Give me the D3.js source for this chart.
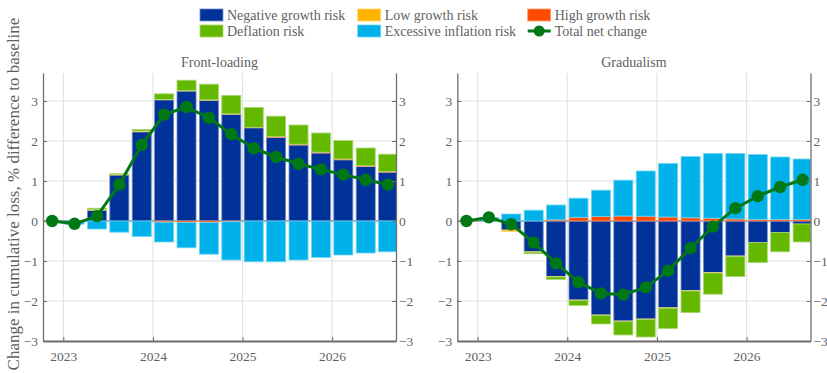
<!DOCTYPE html>
<html>
<head>
<meta charset="utf-8">
<script src="https://cdn.jsdelivr.net/npm/d3@7"></script>
<style>
  html, body { margin: 0; padding: 0; background: #fff; }
  svg { display: block; }
</style>
</head>
<body>
<svg id="chart" width="827" height="373"></svg>
<script>
// Quarterly observations, 2022Q4 to 2026Q3
const quarters = ["2022Q4","2023Q1","2023Q2","2023Q3","2023Q4","2024Q1","2024Q2","2024Q3",
                  "2024Q4","2025Q1","2025Q2","2025Q3","2025Q4","2026Q1","2026Q2","2026Q3"];
const yearTicks = [2023, 2024, 2025, 2026];
const valueTicks = [-3, -2, -1, 0, 1, 2, 3];

const seriesNames = ["Negative growth risk", "Low growth risk", "High growth risk",
                     "Deflation risk", "Excessive inflation risk"];
const lineName = "Total net change";

// Front-loading scenario
const frontNegGrowth  = [0, 0.01, 0.27, 1.15, 2.23, 3.03, 3.25, 3.02, 2.67, 2.33, 2.09, 1.90, 1.70, 1.53, 1.36, 1.22];
const frontLowGrowth  = [0, 0, 0.02, 0.02, 0.02, 0.01, 0.01, 0.01, 0.01, 0, 0, 0, 0, 0, 0, 0];
const frontHighGrowth = [0, 0, 0, 0, 0, -0.03, -0.04, -0.04, -0.02, 0.01, 0.02, 0.02, 0.02, 0.02, 0.02, 0.02];
const frontDeflation  = [0, 0, 0.03, 0.02, 0.04, 0.14, 0.26, 0.39, 0.46, 0.50, 0.51, 0.48, 0.48, 0.46, 0.445, 0.43];
const frontExcessInfl = [0, -0.08, -0.20, -0.28, -0.39, -0.495, -0.63, -0.79, -0.955, -1.02, -1.02, -0.975, -0.91, -0.85, -0.80, -0.77];
const frontTotal      = [0, -0.07, 0.12, 0.91, 1.90, 2.66, 2.85, 2.58, 2.17, 1.82, 1.60, 1.43, 1.29, 1.16, 1.03, 0.91];

// Gradualism scenario
const gradNegGrowth  = [0, 0, -0.225, -0.77, -1.39, -1.975, -2.35, -2.50, -2.45, -2.17, -1.74, -1.29, -0.875, -0.54, -0.29, -0.075];
const gradLowGrowth  = [0, 0, -0.04, -0.01, -0.01, -0.01, -0.01, -0.01, -0.01, -0.01, -0.01, -0.01, -0.01, 0, 0, 0];
const gradHighGrowth = [0, 0, 0, 0, 0.03, 0.09, 0.11, 0.125, 0.12, 0.10, 0.08, 0.07, 0.05, 0.04, 0.04, 0.04];
const gradDeflation  = [0, 0, 0, -0.04, -0.06, -0.125, -0.215, -0.34, -0.44, -0.51, -0.54, -0.53, -0.505, -0.50, -0.48, -0.45];
const gradExcessInfl = [0, 0.09, 0.175, 0.27, 0.37, 0.48, 0.66, 0.895, 1.13, 1.34, 1.53, 1.62, 1.64, 1.62, 1.56, 1.51];
const gradTotal      = [0, 0.09, -0.08, -0.54, -1.06, -1.53, -1.81, -1.84, -1.66, -1.24, -0.68, -0.14, 0.32, 0.62, 0.85, 1.03];

const colors = ["#003299", "#FFB400", "#FF4B00", "#65B800", "#00B1EA"];
const lineColor = "#007816";
const textColor = "#5f5f5f";
const axisColor = "#6e6e6e";
const gridColor = "#e3e3e3";
const fontFamily = "Liberation Serif";

// mid-quarter position in decimal years
const qTime = quarters.map(q => +q.slice(0, 4) + (+q.slice(5) - 1) * 0.25 + 0.125);

const panels = [
  { title: "Front-loading", left: 43, right: 396,
    series: [frontNegGrowth, frontLowGrowth, frontHighGrowth, frontDeflation, frontExcessInfl], total: frontTotal },
  { title: "Gradualism", left: 457.3, right: 810.5,
    series: [gradNegGrowth, gradLowGrowth, gradHighGrowth, gradDeflation, gradExcessInfl], total: gradTotal }
];

const svg = d3.select("#chart").attr("font-family", fontFamily);
const plotTop = 73, plotBottom = 341;
const y = d3.scaleLinear().domain([-3, 3.7]).range([plotBottom, plotTop]);

function lighten(c, k) {
  return d3.interpolateRgb(c, "#ffffff")(k);
}

panels.forEach((p, pi) => {
  const x = d3.scaleLinear().domain([2022.773, 2026.713]).range([p.left, p.right]);
  const bw = (x(2023.25) - x(2023)) * 0.85;
  const g = svg.append("g");

  const clipId = "clip" + pi;
  svg.append("clipPath").attr("id", clipId).append("rect")
    .attr("x", p.left).attr("y", plotTop - 10).attr("width", p.right - p.left).attr("height", plotBottom - plotTop + 10);

  // grid
  g.append("g").selectAll("line").data(valueTicks).join("line")
    .attr("x1", p.left).attr("x2", p.right).attr("y1", d => y(d)).attr("y2", d => y(d))
    .attr("stroke", gridColor).attr("stroke-width", 1.2);
  g.append("g").selectAll("line").data(yearTicks).join("line")
    .attr("x1", d => x(d)).attr("x2", d => x(d)).attr("y1", plotTop).attr("y2", plotBottom)
    .attr("stroke", gridColor).attr("stroke-width", 1.2);

  // zero baseline
  g.append("line").attr("x1", p.left).attr("x2", p.right).attr("y1", y(0)).attr("y2", y(0))
    .attr("stroke", axisColor).attr("stroke-width", 1);

  // stacked bars
  const rows = quarters.map((q, i) => {
    const r = { t: qTime[i] };
    p.series.forEach((s, k) => r["s" + k] = s[i]);
    return r;
  });
  const keys = p.series.map((s, k) => "s" + k);
  const stacked = d3.stack().keys(keys).offset(d3.stackOffsetDiverging)(rows);

  const barG = g.append("g").attr("clip-path", `url(#${clipId})`);
  stacked.forEach((layer, k) => {
    barG.append("g").selectAll("rect").data(layer.filter(d => Math.abs(d[1] - d[0]) > 1e-9)).join("rect")
      .attr("x", d => x(d.data.t) - bw / 2)
      .attr("width", bw)
      .attr("y", d => y(Math.max(d[0], d[1])))
      .attr("height", d => Math.abs(y(d[0]) - y(d[1])))
      .attr("fill", colors[k])
      .attr("stroke", lighten(colors[k], 0.45))
      .attr("stroke-width", 0.8);
  });

  // total net change
  const line = d3.line().x((d, i) => x(qTime[i])).y(d => y(d));
  g.append("path").datum(p.total).attr("d", line)
    .attr("fill", "none").attr("stroke", lineColor).attr("stroke-width", 3).attr("stroke-linejoin", "round");
  g.append("g").selectAll("circle").data(p.total).join("circle")
    .attr("cx", (d, i) => x(qTime[i])).attr("cy", d => y(d)).attr("r", 6.2)
    .attr("fill", lineColor);

  // axes
  const axL = d3.axisLeft(y).tickValues(valueTicks).tickSizeInner(-4).tickSizeOuter(0).tickPadding(5)
    .tickFormat(d3.format("d"));
  const axR = d3.axisRight(y).tickValues(valueTicks).tickSizeInner(-4).tickSizeOuter(0).tickPadding(3)
    .tickFormat(d3.format("d"));
  const axB = d3.axisBottom(x).tickValues(yearTicks).tickSizeInner(-4).tickSizeOuter(0).tickPadding(10)
    .tickFormat(d3.format("d"));

  const gl = g.append("g").attr("transform", `translate(${p.left},0)`).call(axL);
  const gr = g.append("g").attr("transform", `translate(${p.right},0)`).call(axR);
  const gb = g.append("g").attr("transform", `translate(0,${plotBottom})`).call(axB);
  [gl, gr, gb].forEach(a => {
    a.attr("font-family", fontFamily).attr("font-size", 13.5);
    a.selectAll("path.domain").attr("stroke", axisColor).attr("stroke-width", 1.3);
    a.selectAll(".tick line").attr("stroke", axisColor);
    a.selectAll("text").attr("fill", textColor);
  });
  gb.select("path.domain").attr("stroke-width", 2);

  // title
  g.append("text").attr("x", (p.left + p.right) / 2).attr("y", 67)
    .attr("text-anchor", "middle").attr("fill", textColor).attr("font-size", 14)
    .text(p.title);
});

// y-axis label
svg.append("text")
  .attr("transform", "translate(19,194) rotate(-90)")
  .attr("text-anchor", "middle").attr("fill", textColor).attr("font-size", 17)
  .text("Change in cumulative loss, % difference to baseline");

// legend
const legendItems = [
  { name: seriesNames[0], color: colors[0], col: 0, row: 0 },
  { name: seriesNames[1], color: colors[1], col: 1, row: 0 },
  { name: seriesNames[2], color: colors[2], col: 2, row: 0 },
  { name: seriesNames[3], color: colors[3], col: 0, row: 1 },
  { name: seriesNames[4], color: colors[4], col: 1, row: 1 },
  { name: lineName, color: lineColor, col: 2, row: 1, line: true }
];
const colX = [200, 357.7, 527.7];
const rowY = [15, 31];
const lg = svg.append("g");
legendItems.forEach(it => {
  const gx = colX[it.col], gy = rowY[it.row];
  if (it.line) {
    lg.append("line").attr("x1", gx).attr("x2", gx + 23).attr("y1", gy).attr("y2", gy)
      .attr("stroke", it.color).attr("stroke-width", 3);
    lg.append("circle").attr("cx", gx + 11.5).attr("cy", gy).attr("r", 5.5).attr("fill", it.color);
  } else {
    lg.append("rect").attr("x", gx).attr("y", gy - 6).attr("width", 23).attr("height", 12)
      .attr("fill", it.color).attr("stroke", lighten(it.color, 0.45)).attr("stroke-width", 0.8);
  }
  lg.append("text").attr("x", gx + 27).attr("y", gy + 4.5)
    .attr("fill", textColor).attr("font-size", 14)
    .text(it.name);
});
</script>
</body>
</html>
